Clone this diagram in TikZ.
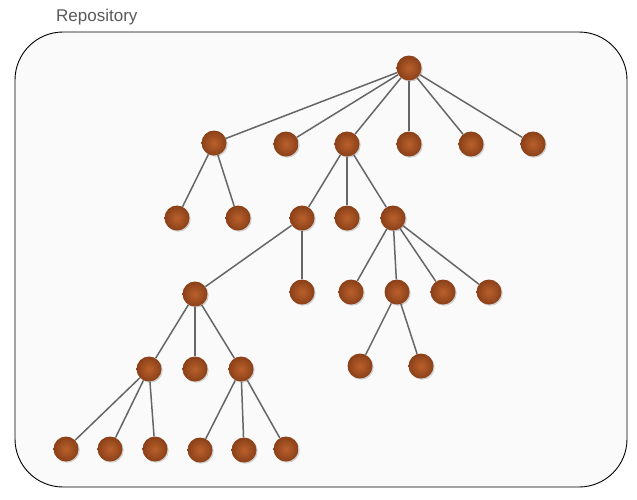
\documentclass[tikz,border=0pt]{standalone}
\usepackage{fontspec}
\setmainfont{Liberation Sans}
\usetikzlibrary{shadows}
\definecolor{nodelight}{RGB}{186,96,44}
\definecolor{nodedark}{RGB}{138,64,24}
\definecolor{edgegray}{RGB}{102,102,102}

\begin{document}
\begin{tikzpicture}[x=1pt,y=-1pt]
  \tikzset{vertex/.style = {shape=circle,inner color=nodelight,outer color=nodedark,minimum size=25pt,inner sep=0pt,
      drop shadow={opacity=0.35,shadow xshift=1.2pt,shadow yshift=-1.2pt}}}
  \tikzset{edge/.style = {draw=edgegray,line width=1.5pt}}
  \useasboundingbox (0,0) rectangle (637,499);
  \draw[fill={rgb,255:red,250;green,250;blue,250},rounded corners=48pt,line width=0.9pt] (15,32) rectangle (627,487);
  \node[anchor=west,inner sep=0pt,text=black!65,font=\fontsize{17pt}{20pt}\selectfont] (repo) at (56,17) {Repository};

    % root and first level
	\node[vertex] (1) at (409,68) {};
	\node[vertex] (2) at (214,143) {};
	\node[vertex] (3) at (286,144) {};
	\node[vertex] (4) at (347,144) {};
	\node[vertex] (5) at (409,144) {};
	\node[vertex] (6) at (471,144) {};
	\node[vertex] (7) at (533,144) {};
    % second level
	\node[vertex] (8) at (177,218) {};
	\node[vertex] (9) at (238,218) {};
	\node[vertex] (10) at (302,218) {};
	\node[vertex] (11) at (347,218) {};
	\node[vertex] (12) at (393,218) {};
    % third level
	\node[vertex] (13) at (195,294) {};
	\node[vertex] (14) at (302,292) {};
	\node[vertex] (15) at (351,292) {};
	\node[vertex] (16) at (397,292) {};
	\node[vertex] (17) at (443,292) {};
	\node[vertex] (18) at (489,292) {};
    % fourth level
	\node[vertex] (19) at (149,369) {};
	\node[vertex] (20) at (195,369) {};
	\node[vertex] (21) at (241,369) {};
	\node[vertex] (22) at (360,366) {};
	\node[vertex] (23) at (421,366) {};
    % leaves
	\node[vertex] (24) at (66,449) {};
	\node[vertex] (25) at (110,449) {};
	\node[vertex] (26) at (155,449) {};
	\node[vertex] (27) at (200,450) {};
	\node[vertex] (28) at (244,450) {};
	\node[vertex] (29) at (286,449) {};

    \foreach \from/\to in {1/2,1/3,1/4,1/5,1/6,1/7,2/8,2/9,4/10,4/11,4/12,10/13,10/14,12/15,12/16,12/17,12/18,
                           13/19,13/20,13/21,16/22,16/23,19/24,19/25,19/26,21/27,21/28,21/29}
    \path[edge] (\from) -- (\to);
\end{tikzpicture}
\end{document}
